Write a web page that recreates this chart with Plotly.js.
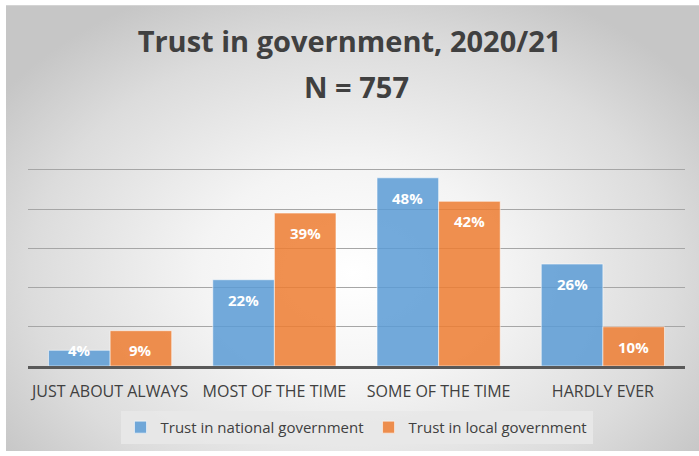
<!DOCTYPE html>
<html>
<head>
<meta charset="utf-8">
<script src="https://cdn.plot.ly/plotly-3.0.1.min.js"></script>
<style>
  html, body { margin: 0; padding: 0; background: #ffffff; }
  #wrap { position: relative; width: 699px; height: 456px; overflow: hidden; }
  #bg { position: absolute; left: 6px; top: 5px; width: 693px; height: 446px;
        background: radial-gradient(ellipse 62% 70% at 50% 60%, #ffffff 0%, #f4f4f4 35%, #dcdcdc 75%, #c6c6c6 100%);
        border-top: 1px solid #d4d4d4; box-sizing: border-box; }
  #chart { position: absolute; left: 0; top: 0; width: 699px; height: 456px; }
</style>
</head>
<body>
<div id="wrap"><div id="bg"></div><div id="chart"></div></div>
<script>
const categories = ["JUST ABOUT ALWAYS", "MOST OF THE TIME", "SOME OF THE TIME", "HARDLY EVER"];
const nationalTrust = [4, 22, 48, 26];
const localTrust = [9, 39, 42, 10];
const seriesNames = ["Trust in national government", "Trust in local government"];
const titleLine1 = "Trust in government, 2020/21";
const titleLine2 = "N = 757";

const FONT = "'Open Sans', Lato, sans-serif";
const yMax = 50.5;
const plotTop = 168, plotBottom = 368;
const pxPerUnit = (plotBottom - plotTop) / yMax;
const bargap = 0.25;
const half = (1 - bargap) / 4;

const traces = [
  { type: "bar", name: seriesNames[0], x: categories, y: nationalTrust,
    marker: { color: "rgba(91,155,213,0.85)", line: { color: "rgba(255,255,255,0.55)", width: 1 } },
    hoverinfo: "none" },
  { type: "bar", name: seriesNames[1], x: categories, y: localTrust,
    marker: { color: "rgba(237,125,49,0.85)", line: { color: "rgba(255,255,255,0.55)", width: 1 } },
    hoverinfo: "none" }
];

const annotations = [];
[nationalTrust, localTrust].forEach((vals, s) => {
  vals.forEach((v, i) => {
    const hpx = v * pxPerUnit;
    const shift = -Math.max(0, Math.min(20, hpx - 16));
    annotations.push({
      xref: "x", yref: "y", x: i + (s === 0 ? -half : half), y: v,
      yanchor: "middle", xanchor: "center", yshift: shift,
      text: "<b>" + v + "%</b>", showarrow: false,
      font: { family: FONT, size: 15, color: "#ffffff" }
    });
  });
});
annotations.push({
  xref: "paper", yref: "paper", x: 0.5, y: (plotBottom - 86) / (plotBottom - plotTop),
  xanchor: "center", yanchor: "middle", showarrow: false,
  text: "<b>" + titleLine2 + "</b>",
  font: { family: FONT, size: 29, color: "#404040" }
});

const layout = {
  width: 699, height: 456,
  paper_bgcolor: "rgba(0,0,0,0)", plot_bgcolor: "rgba(0,0,0,0)",
  margin: { l: 28, r: 14, t: plotTop, b: 456 - plotBottom },
  title: { text: "<b>" + titleLine1 + "</b>", x: 0.5, xanchor: "center",
           y: 1 - 42 / 456, yref: "container", yanchor: "middle",
           font: { family: FONT, size: 29, color: "#404040" } },
  barmode: "group", bargap: bargap, bargroupgap: 0,
  xaxis: { type: "category", showline: true, linecolor: "#595959", linewidth: 3,
           ticks: "", ticklabelstandoff: 9,
           tickfont: { family: FONT, size: 16, color: "#404040" }, fixedrange: true },
  yaxis: { range: [0, yMax], dtick: 10, showticklabels: false, showgrid: true,
           gridcolor: "#a6a6a6", gridwidth: 1, zeroline: false, fixedrange: true },
  showlegend: true,
  legend: { orientation: "h", x: 0.5, xanchor: "center",
            y: (plotBottom - 430) / (plotBottom - plotTop), yanchor: "middle",
            bgcolor: "rgba(232,232,232,0.9)", borderwidth: 0,
            font: { family: FONT, size: 15, color: "#404040" },
            itemwidth: 30, traceorder: "normal" },
  annotations: annotations
};

Plotly.newPlot("chart", traces, layout, { displayModeBar: false, staticPlot: true });
</script>
</body>
</html>
